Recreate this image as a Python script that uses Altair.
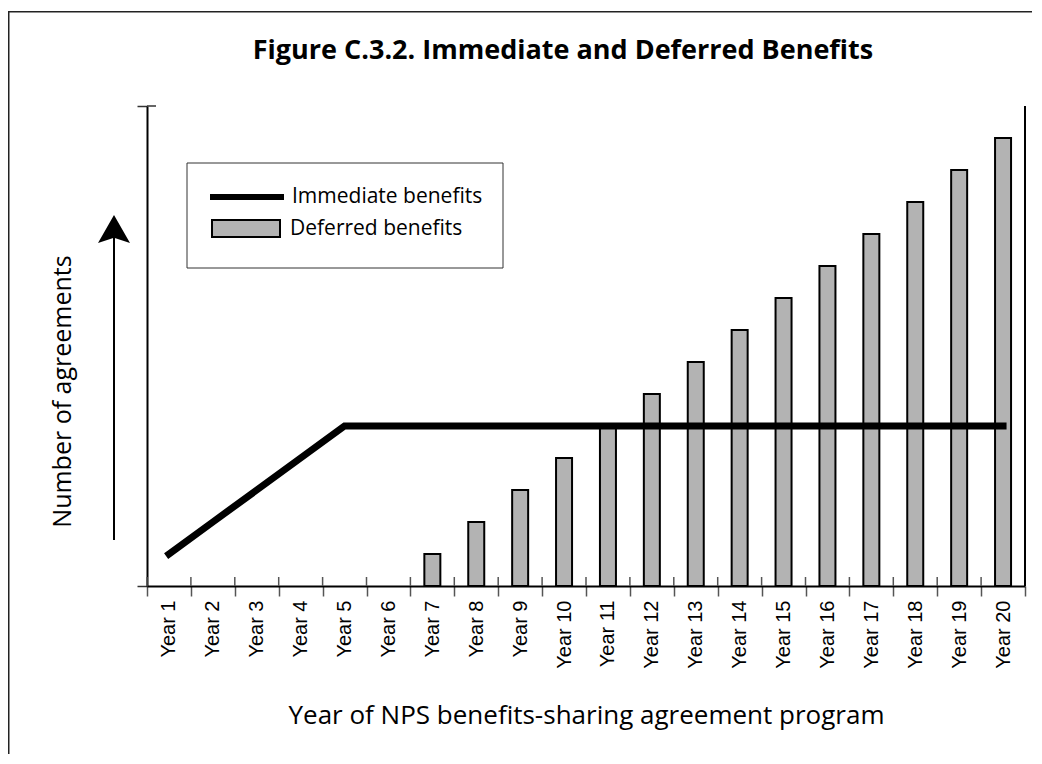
import altair as alt
import pandas as pd

# ---------------- data ----------------
years = ["Year 1", "Year 2", "Year 3", "Year 4", "Year 5", "Year 6", "Year 7",
         "Year 8", "Year 9", "Year 10", "Year 11", "Year 12", "Year 13", "Year 14",
         "Year 15", "Year 16", "Year 17", "Year 18", "Year 19", "Year 20"]
immediate = [1, 2, 3, 4, 5, 5, 5, 5, 5, 5, 5, 5, 5, 5, 5, 5, 5, 5, 5, 5]
deferred_years = ["Year 7", "Year 8", "Year 9", "Year 10", "Year 11", "Year 12",
                  "Year 13", "Year 14", "Year 15", "Year 16", "Year 17", "Year 18",
                  "Year 19", "Year 20"]
deferred = [1, 2, 3, 4, 5, 6, 7, 8, 9, 10, 11, 12, 13, 14]
y_ticks = [0, 15]
legend_labels = ["Immediate benefits", "Deferred benefits"]
title_text = "Figure C.3.2. Immediate and Deferred Benefits"
x_title = "Year of NPS benefits-sharing agreement program"
y_title = "Number of agreements"

W, H = 878, 480
FONT = "Open Sans"
PAD_R, PAD_B = 9, 170

line_df = pd.DataFrame({"year": years, "value": immediate})
bar_df = pd.DataFrame({"year": deferred_years, "value": deferred})
year_df = pd.DataFrame({"year": years})
one = pd.DataFrame({"k": [0]})

x_axis = alt.Axis(
    title=x_title, titleFont=FONT, titleFontSize=26, titleFontWeight="normal",
    titleColor="black", titleY=129, titleBaseline="middle",
    labelAngle=-90, labelFont="Liberation Sans Narrow, Liberation Sans", labelFontSize=20,
    labelColor="black", labelPadding=4, labelOverlap=False,
    tickBand="extent", tickSize=10, tickWidth=1.5, tickColor="#555",
    domainColor="black", domainWidth=2, grid=False,
)
y_axis = alt.Axis(
    title=y_title, titleFont=FONT, titleFontSize=25, titleFontWeight="normal",
    titleColor="black", titleX=-85, titleY=285, titleBaseline="middle",
    values=y_ticks, labels=False, tickSize=10, tickWidth=1.5, tickColor="#333",
    domainColor="black", domainWidth=2, grid=False,
)
x_scale = alt.Scale(domain=years, paddingInner=0, paddingOuter=0)
y_scale = alt.Scale(domain=[0, 15], nice=False, zero=True)

X = alt.X("year:N", scale=x_scale, axis=x_axis, sort=years)
Y = alt.Y("value:Q", scale=y_scale, axis=y_axis)

# outer frame of the figure: only its top and left sides fall inside the page
# (drawn as thin filled rectangles, no stroke)
frame_top = alt.Chart(one).mark_rect(fill="#222", strokeWidth=0).encode(
    x=alt.value(-139), x2=alt.value(W + PAD_R - 2),
    y=alt.value(-95), y2=alt.value(-93.5)
)
frame_left = alt.Chart(one).mark_rect(fill="#222", strokeWidth=0).encode(
    x=alt.value(-139), x2=alt.value(-137.5),
    y=alt.value(-95), y2=alt.value(H + PAD_B - 2)
)

bars = alt.Chart(bar_df).mark_bar(
    size=16, fill="#b3b3b3", stroke="black", strokeWidth=2
).encode(x=X, y=Y)

line = alt.Chart(line_df).mark_line(
    color="black", strokeWidth=7, strokeCap="square", strokeJoin="miter"
).encode(x=X, y=Y)

# upper half of the x tick marks (ticks cross the axis line)
tick_up = alt.Chart(year_df).mark_rule(color="#555", strokeWidth=1.5).encode(
    x=alt.X("year:N", scale=x_scale, axis=x_axis, sort=years, bandPosition=0),
    y=alt.value(H - 9), y2=alt.value(H),
)
# right part of the top y tick
top_tick = alt.Chart(one).mark_rule(color="#333", strokeWidth=1.5).encode(
    y=alt.datum(15, scale=y_scale, axis=y_axis), x=alt.value(0), x2=alt.value(9)
)
# right border line of the plot
right_line = alt.Chart(one).mark_rule(color="black", strokeWidth=2).encode(
    x=alt.value(W), y=alt.value(0), y2=alt.value(H)
)

# upward arrow beside the y axis
arrow_shaft = alt.Chart(one).mark_rule(color="black", strokeWidth=2).encode(
    x=alt.value(-33), y=alt.value(125), y2=alt.value(434)
)
arrow_head = alt.Chart(one).mark_point(
    shape="M0,-0.875L1,0.875L0,0.55L-1,0.875Z", filled=True, fill="black",
    stroke=None, opacity=1, size=1024,
).encode(x=alt.value(-33), y=alt.value(123))

# legend box
leg_box = alt.Chart(one).mark_rect(fill="white", stroke="#333", strokeWidth=1).encode(
    x=alt.value(40), x2=alt.value(356), y=alt.value(57), y2=alt.value(162)
)
leg_line = alt.Chart(one).mark_rule(color="black", strokeWidth=6).encode(
    x=alt.value(63), x2=alt.value(137), y=alt.value(91)
)
leg_rect = alt.Chart(one).mark_rect(fill="#b3b3b3", stroke="black", strokeWidth=2).encode(
    x=alt.value(65), x2=alt.value(133), y=alt.value(114), y2=alt.value(131)
)
leg_txt1 = alt.Chart(one).mark_text(
    align="left", baseline="middle", font=FONT, fontSize=21, color="black",
    text=legend_labels[0]
).encode(x=alt.value(145), y=alt.value(91))
leg_txt2 = alt.Chart(one).mark_text(
    align="left", baseline="middle", font=FONT, fontSize=21, color="black",
    text=legend_labels[1]
).encode(x=alt.value(143), y=alt.value(123))

title = alt.Chart(one).mark_text(
    align="center", baseline="alphabetic", font=FONT, fontSize=27,
    fontWeight="bold", color="black", text=title_text
).encode(x=alt.value(563 - 147), y=alt.value(-47))

chart = alt.layer(
    frame_top, frame_left, bars, line, tick_up, top_tick, right_line,
    arrow_shaft, arrow_head, leg_box, leg_line, leg_rect, leg_txt1, leg_txt2, title
).properties(
    width=W, height=H,
    autosize=alt.AutoSizeParams(type="none"),
    padding={"left": 139, "top": 98, "right": PAD_R, "bottom": PAD_B},
    background="white",
).configure_view(stroke=None)

chart.save("out.html", embed_options={"renderer": "svg", "actions": False})
